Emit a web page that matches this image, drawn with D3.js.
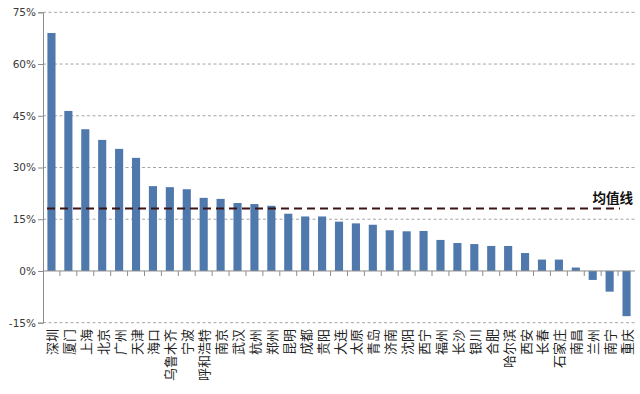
<!DOCTYPE html>
<html><head><meta charset="utf-8">
<script src="https://cdn.jsdelivr.net/npm/d3@7"></script>
<style>body{margin:0;background:#fff}</style>
</head><body>
<svg id="c" width="640" height="394"></svg>
<script>
const cities = ["深圳","厦门","上海","北京","广州","天津","海口","乌鲁木齐","宁波","呼和浩特","南京","武汉","杭州","郑州","昆明","成都","贵阳","大连","太原","青岛","济南","沈阳","西宁","福州","长沙","银川","合肥","哈尔滨","西安","长春","石家庄","南昌","兰州","南宁","重庆"];
const values = [69.0,46.4,41.1,38.0,35.4,32.8,24.6,24.3,23.7,21.2,20.9,19.7,19.4,18.9,16.6,15.8,15.8,14.3,13.8,13.4,11.8,11.5,11.6,9.0,8.1,7.8,7.25,7.25,5.2,3.3,3.3,1.0,-2.6,-6.0,-13.1];
const yTicks = [-15,0,15,30,45,60,75];
const meanValue = 18.1;
const meanLabel = "均值线";

const svg = d3.select("#c");
const x0 = 43, x1 = 635;
const x = d3.scaleBand().domain(cities).range([x0, x1]).paddingInner(0.52).paddingOuter(0.26);
const y = d3.scaleLinear().domain([-15, 75]).range([322.7, 12.3]);

// gridlines
svg.append("g").selectAll("line").data(yTicks.filter(d => d !== 0)).join("line")
  .attr("x1", x0).attr("x2", x1).attr("y1", d => y(d)).attr("y2", d => y(d))
  .attr("stroke", "#a6a6a6").attr("stroke-width", 1).attr("stroke-dasharray", "3,2.5");

// y axis
const yAxis = d3.axisLeft(y).tickValues(yTicks).tickSize(5).tickFormat(d => d + "%");
const ga = svg.append("g").attr("transform", `translate(${x0},0)`).call(yAxis);
ga.select(".domain").attr("stroke", "#8c8c8c");
ga.selectAll(".tick line").attr("stroke", "#8c8c8c");
ga.selectAll(".tick text").attr("font-family", "'DejaVu Sans', sans-serif").attr("font-size", 10.5).attr("fill", "#3a3a3a").attr("x", -7);

// bars
svg.append("g").selectAll("rect").data(cities).join("rect")
  .attr("x", d => x(d)).attr("width", x.bandwidth())
  .attr("y", (d, i) => y(Math.max(0, values[i])))
  .attr("height", (d, i) => Math.abs(y(values[i]) - y(0)))
  .attr("fill", "#4f79ac");

// zero axis with category ticks
const step = x.step();
svg.append("line").attr("x1", x0).attr("x2", x1).attr("y1", y(0)).attr("y2", y(0)).attr("stroke", "#8c8c8c");
svg.append("g").selectAll("line").data(cities.slice(1)).join("line")
  .attr("x1", d => x(d) - (step - x.bandwidth()) / 2).attr("x2", d => x(d) - (step - x.bandwidth()) / 2)
  .attr("y1", y(0)).attr("y2", y(0) + 5).attr("stroke", "#8c8c8c");

// category labels, rotated -90
svg.append("g").selectAll("text").data(cities).join("text")
  .attr("transform", d => `translate(${x(d) + x.bandwidth() / 2},329) rotate(-90)`)
  .attr("text-anchor", "end").attr("dominant-baseline", "central")
  .attr("font-family", "'Noto Sans CJK SC', sans-serif").attr("font-size", 13)
  .attr("fill", "#1f1f1f").text(d => d);

// mean line
svg.append("line").attr("x1", 47).attr("x2", 620).attr("y1", y(meanValue)).attr("y2", y(meanValue))
  .attr("stroke", "#3d1416").attr("stroke-width", 2).attr("stroke-dasharray", "8,5");
svg.append("text").attr("x", 633).attr("y", y(meanValue) - 6).attr("text-anchor", "end")
  .attr("font-family", "'Noto Sans CJK SC', sans-serif").attr("font-size", 13.5).attr("font-weight", "bold")
  .attr("fill", "#111").text(meanLabel);
</script>
</body></html>
